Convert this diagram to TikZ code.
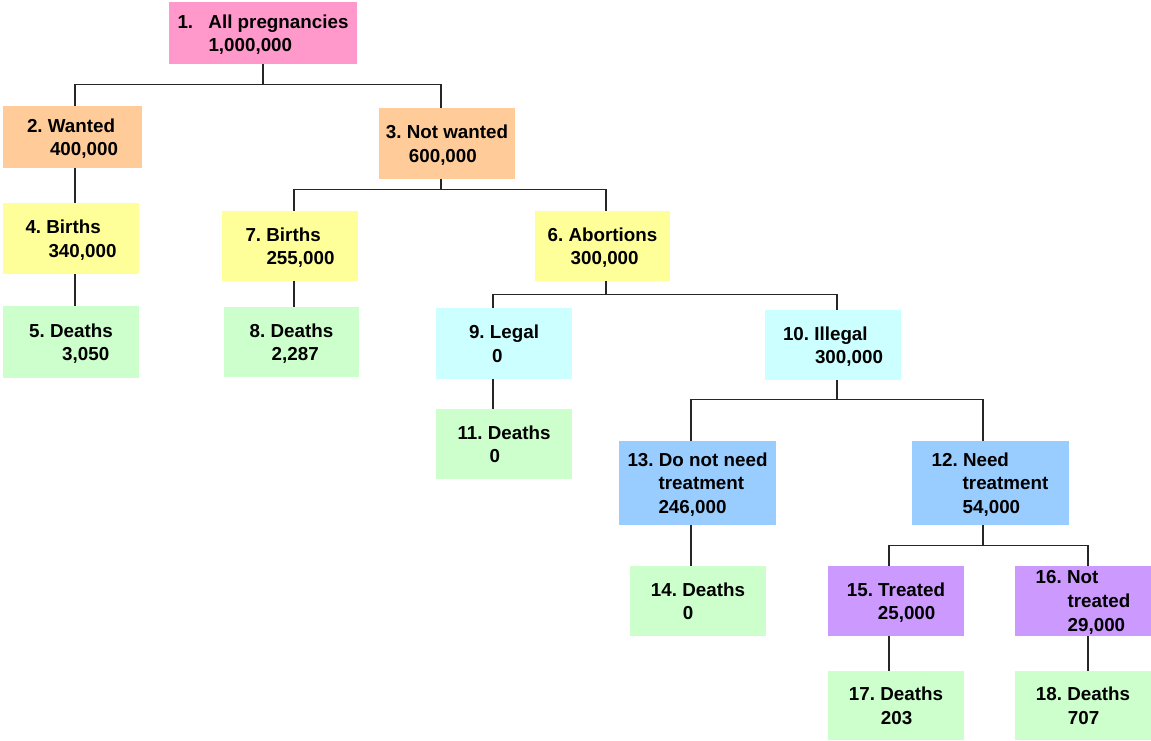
\documentclass[tikz,border=0pt]{standalone}
\usepackage{fontspec}
\setmainfont{Liberation Sans}
\definecolor{cpink}{HTML}{FF99CC}
\definecolor{corange}{HTML}{FFCC99}
\definecolor{cyellow}{HTML}{FFFF99}
\definecolor{cgreen}{HTML}{CCFFCC}
\definecolor{ccyan}{HTML}{CCFFFF}
\definecolor{cblue}{HTML}{99CCFF}
\definecolor{cpurple}{HTML}{CC99FF}
\newcommand\ind[1]{\hspace*{#1pt}}
\begin{document}
\frenchspacing
\begin{tikzpicture}[x=1pt,y=-1pt,
  box/.style={rectangle, inner sep=0pt, align=left, text=black,
    font=\frenchspacing\bfseries\fontsize{18.8}{23.6}\selectfont,
    text depth=-2pt},
  conn/.style={draw=black!85, line width=1.3pt}]
\useasboundingbox (0,0) rectangle (1151,740);
% boxes
\node[box, fill=cpink, minimum width=188pt, minimum height=62pt] (n1) at (263,33)
  {\makebox[31pt][l]{1.}All pregnancies\\\ind{31}1,000,000};
\node[box, fill=corange, minimum width=139pt, minimum height=62pt] (n2) at (72.5,137)
  {2. Wanted\\\ind{23}400,000};
\node[box, fill=corange, minimum width=136pt, minimum height=71pt] (n3) at (447,143.5)
  {3. Not wanted\\\ind{23}600,000};
\node[box, fill=cyellow, minimum width=136pt, minimum height=71pt] (n4) at (71,238.5)
  {4. Births\\\ind{23}340,000};
\node[box, fill=cgreen, minimum width=136pt, minimum height=72pt] (n5) at (71,342)
  {5. Deaths\\\ind{33}3,050};
\node[box, fill=cyellow, minimum width=136pt, minimum height=70pt] (n7) at (290,246)
  {7. Births\\\ind{21}255,000};
\node[box, fill=cyellow, minimum width=135pt, minimum height=70pt] (n6) at (602.5,246)
  {6. Abortions\\\ind{23}300,000};
\node[box, fill=cgreen, minimum width=135pt, minimum height=70pt] (n8) at (291.5,342)
  {8. Deaths\\\ind{22}2,287};
\node[box, fill=ccyan, minimum width=136pt, minimum height=71pt] (n9) at (504,343.5)
  {9. Legal\\\ind{23}0};
\node[box, fill=ccyan, minimum width=136pt, minimum height=70pt] (n10) at (833,345)
  {10. Illegal\\\ind{32}300,000};
\node[box, fill=cgreen, minimum width=136pt, minimum height=70pt] (n11) at (504,444)
  {11. Deaths\\\ind{32}0};
\node[box, fill=cblue, minimum width=157pt, minimum height=84pt] (n13) at (697.5,483)
  {13. Do not need\\\ind{31}treatment\\\ind{31}246,000};
\node[box, fill=cblue, minimum width=157pt, minimum height=84pt] (n12) at (990,483)
  {12. Need\\\ind{31}treatment\\\ind{31}54,000};
\node[box, fill=cgreen, minimum width=136pt, minimum height=70pt] (n14) at (698,601)
  {14. Deaths\\\ind{32}0};
\node[box, fill=cpurple, minimum width=136pt, minimum height=70pt] (n15) at (896,601)
  {15. Treated\\\ind{31}25,000};
\node[box, fill=cpurple, minimum width=136pt, minimum height=70pt] (n16) at (1083,601)
  {16. Not\\\ind{32}treated\\\ind{32}29,000};
\node[box, fill=cgreen, minimum width=136pt, minimum height=69pt] (n17) at (896,705.5)
  {17. Deaths\\\ind{32}203};
\node[box, fill=cgreen, minimum width=136pt, minimum height=69pt] (n18) at (1083,705.5)
  {18. Deaths\\\ind{32}707};
% connectors
\draw[conn] (n1.south) -- ++(0,20) -| ([xshift=2.5pt]n2.north);
\draw[conn] (n1.south) -- ++(0,20) -| ([xshift=-6pt]n3.north);
\draw[conn] ([xshift=2.5pt]n2.south) -- ([xshift=4pt]n4.north);
\draw[conn] ([xshift=4pt]n4.south) -- ([xshift=4pt]n5.north);
\draw[conn] ([xshift=-6pt]n3.south) -- ++(0,10) -| ([xshift=4pt]n7.north);
\draw[conn] ([xshift=-6pt]n3.south) -- ++(0,10) -| ([xshift=3.5pt]n6.north);
\draw[conn] ([xshift=4pt]n7.south) -- ([xshift=2.5pt]n8.north);
\draw[conn] ([xshift=3.5pt]n6.south) -- ++(0,13) -| ([xshift=-11pt]n9.north);
\draw[conn] ([xshift=3.5pt]n6.south) -- ++(0,13) -| ([xshift=4pt]n10.north);
\draw[conn] ([xshift=-11pt]n9.south) -- ([xshift=-11pt]n11.north);
\draw[conn] ([xshift=4pt]n10.south) -- ++(0,19) -| ([xshift=-6.5pt]n13.north);
\draw[conn] ([xshift=4pt]n10.south) -- ++(0,19) -| ([xshift=-7pt]n12.north);
\draw[conn] ([xshift=-6.5pt]n13.south) -- ([xshift=-7pt]n14.north);
\draw[conn] ([xshift=-7pt]n12.south) -- ++(0,20) -| ([xshift=-7pt]n15.north);
\draw[conn] ([xshift=-7pt]n12.south) -- ++(0,20) -| ([xshift=5pt]n16.north);
\draw[conn] ([xshift=-7pt]n15.south) -- ([xshift=-7pt]n17.north);
\draw[conn] ([xshift=5pt]n16.south) -- ([xshift=5pt]n18.north);
\end{tikzpicture}
\end{document}
